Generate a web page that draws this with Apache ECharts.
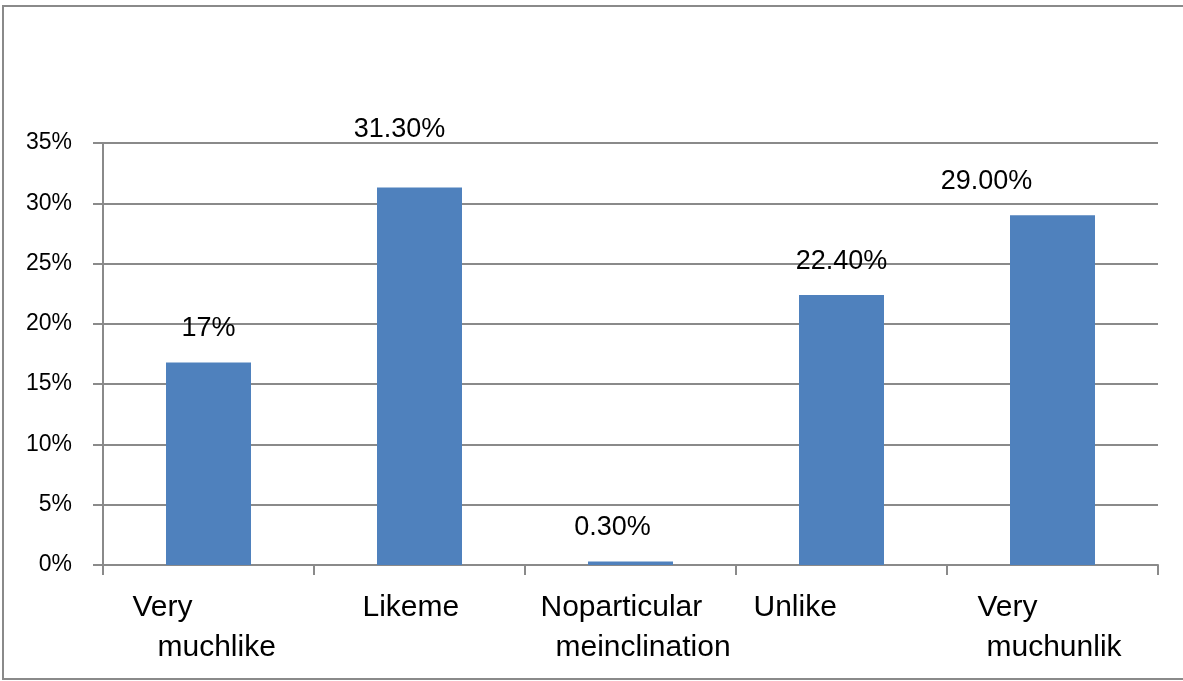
<!DOCTYPE html>
<html>
<head>
<meta charset="utf-8">
<script src="https://cdn.jsdelivr.net/npm/echarts@6/dist/echarts.min.js"></script>
<style>
  html, body { margin: 0; padding: 0; background: #fff; }
  #chart { width: 1183px; height: 681px; }
</style>
</head>
<body>
<div id="chart"></div>
<script>
// category names, '\n' marks the line break used in the picture
const categories = ['Very\nmuchlike', 'Likeme', 'Noparticular\nmeinclination', 'Unlike', 'Very\nmuchunlik'];
// bar heights in percent
const values = [16.8, 31.3, 0.3, 22.4, 29.0];
// texts printed above the bars
const valueLabels = ['17%', '31.30%', '0.30%', '22.40%', '29.00%'];
const yTicks = [0, 5, 10, 15, 20, 25, 30, 35];

// label layout (left edge of each label line, relative to the category centre)
const lineLeft = [[-76, -51], [-57], [-90, -75], [-88], [-75, -66]];
// shift of each value label from its default place above the bar
const labelShift = [[0, 0], [-20, -25], [-18, 0], [0, 0], [-66, 0]];

const BLOCK = 250;
const rich = {};
lineLeft.forEach((lefts, i) => {
  lefts.forEach((l, j) => {
    const pad = l + BLOCK / 2;
    rich['c' + i + '_' + j] = {
      width: BLOCK - pad,
      padding: [0, 0, 0, pad],
      align: 'left',
      fontSize: 30,
      lineHeight: 40,
      color: '#000',
      fontFamily: 'Liberation Sans, Arial, sans-serif'
    };
  });
});

const chart = echarts.init(document.getElementById('chart'));

const option = {
  animation: false,
  backgroundColor: '#fff',
  textStyle: { fontFamily: 'Liberation Sans, Arial, sans-serif' },
  graphic: [{
    type: 'rect',
    shape: { x: 3, y: 6, width: 1200, height: 673 },
    style: { fill: 'none', stroke: '#8a8a8a', lineWidth: 2 },
    silent: true
  }],
  grid: { left: 103, right: 25, top: 143, bottom: 116, outerBoundsMode: 'none' },
  xAxis: {
    type: 'category',
    data: categories,
    boundaryGap: true,
    axisLine: { show: true, lineStyle: { color: '#8a8a8a', width: 2 } },
    axisTick: { show: true, length: 10, lineStyle: { color: '#8a8a8a', width: 2 } },
    axisLabel: {
      margin: 23,
      interval: 0,
      formatter: (val, idx) => val.split('\n').map((t, j) => '{c' + idx + '_' + j + '|' + t + '}').join('\n'),
      rich: rich
    }
  },
  yAxis: {
    type: 'value',
    min: yTicks[0],
    max: yTicks[yTicks.length - 1],
    interval: 5,
    axisLine: { show: true, lineStyle: { color: '#8a8a8a', width: 2 } },
    axisTick: { show: true, length: 10, lineStyle: { color: '#8a8a8a', width: 2 } },
    splitLine: { show: true, lineStyle: { color: '#8a8a8a', width: 2 } },
    axisLabel: {
      margin: 31,
      fontSize: 23,
      color: '#000',
      formatter: '{value}%'
    }
  },
  series: [{
    type: 'bar',
    barWidth: 85,
    itemStyle: { color: '#4f81bd' },
    data: values.map((v, i) => ({
      value: v,
      label: {
        show: true,
        position: 'top',
        distance: 20,
        offset: labelShift[i],
        formatter: valueLabels[i],
        fontSize: 27,
        color: '#000'
      }
    }))
  }]
};

chart.setOption(option);
</script>
</body>
</html>
